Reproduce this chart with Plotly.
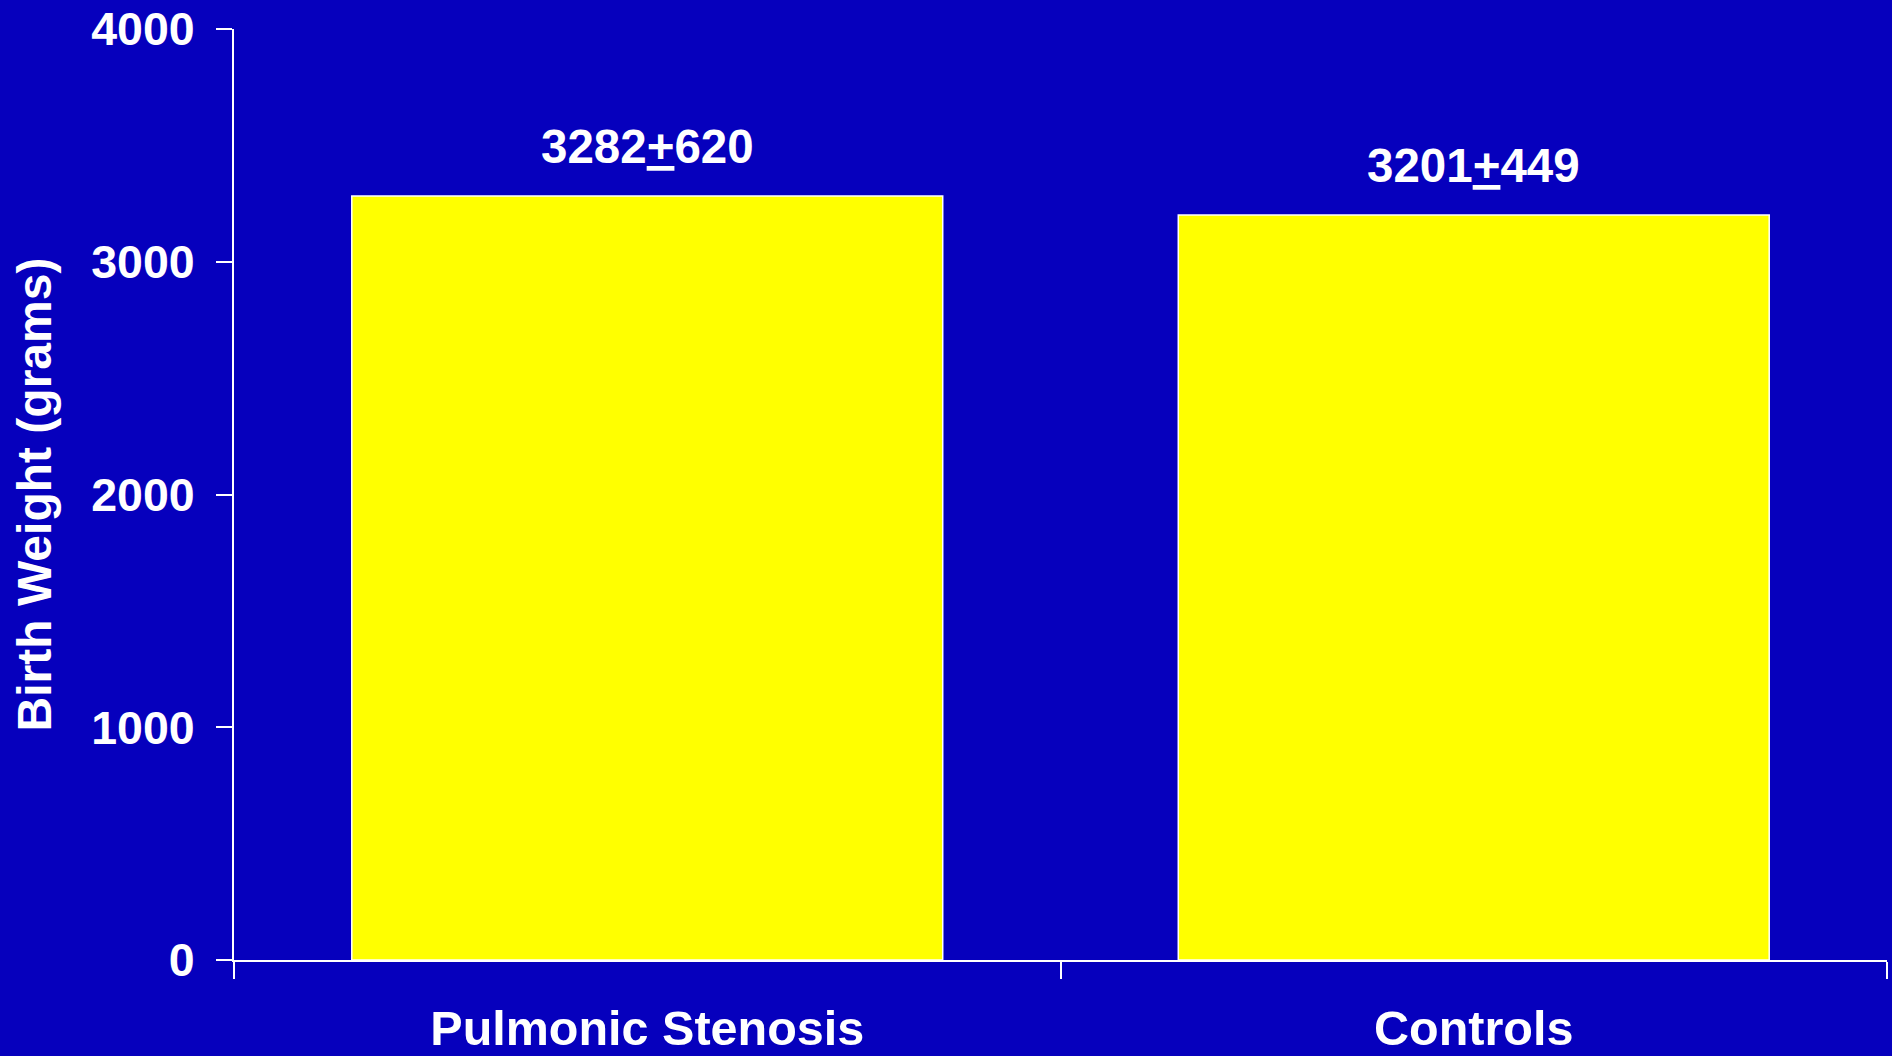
import plotly.graph_objects as go

# Birth weight by group (grams)
categories = ["Pulmonic Stenosis", "Controls"]
mean_weight = [3282, 3201]
sd_weight = [620, 449]
y_ticks = [0, 1000, 2000, 3000, 4000]

BG = "#0600BD"
BAR = "#FFFF00"
FONT = "Liberation Sans, Arial, sans-serif"

fig = go.Figure()
fig.add_trace(go.Bar(
    x=categories,
    y=mean_weight,
    marker=dict(color=BAR, line=dict(color="white", width=1.5)),
    showlegend=False,
))

# Mean ± SD labels above each bar
for cat, m, sd in zip(categories, mean_weight, sd_weight):
    fig.add_annotation(
        x=cat, y=m, xref="x", yref="y",
        text=f"<b>{m}<u>+</u>{sd}</b>",
        showarrow=False, yanchor="bottom", yshift=21,
        font=dict(family=FONT, size=47.5, color="white"),
    )

fig.update_layout(
    width=1892, height=1056,
    margin=dict(l=234, r=5, t=29, b=96, autoexpand=False),
    paper_bgcolor=BG, plot_bgcolor=BG,
    bargap=0.285,
    font=dict(family=FONT, color="white"),
)

fig.update_xaxes(
    type="category",
    range=[-0.5, 1.5],
    automargin=False,
    showline=True, linecolor="white", linewidth=2,
    ticks="outside", tickson="boundaries", ticklen=17, tickwidth=2, tickcolor="white",
    tickfont=dict(family=FONT, size=48.5, color="white", weight="bold"),
    ticklabelstandoff=25,
    showgrid=False, zeroline=False,
)
fig.update_yaxes(
    range=[0, 4000],
    automargin=False,
    tickmode="array", tickvals=y_ticks, ticktext=[str(v) for v in y_ticks],
    showline=True, linecolor="white", linewidth=2,
    ticks="outside", ticklen=16, tickwidth=2, tickcolor="white",
    tickfont=dict(family=FONT, size=46.5, color="white", weight="bold"),
    ticklabelstandoff=12,
    title=dict(text="<b>Birth Weight (grams)</b>", standoff=24,
               font=dict(family=FONT, size=48, color="white")),
    showgrid=False, zeroline=False,
)

fig.write_html("out.html")
